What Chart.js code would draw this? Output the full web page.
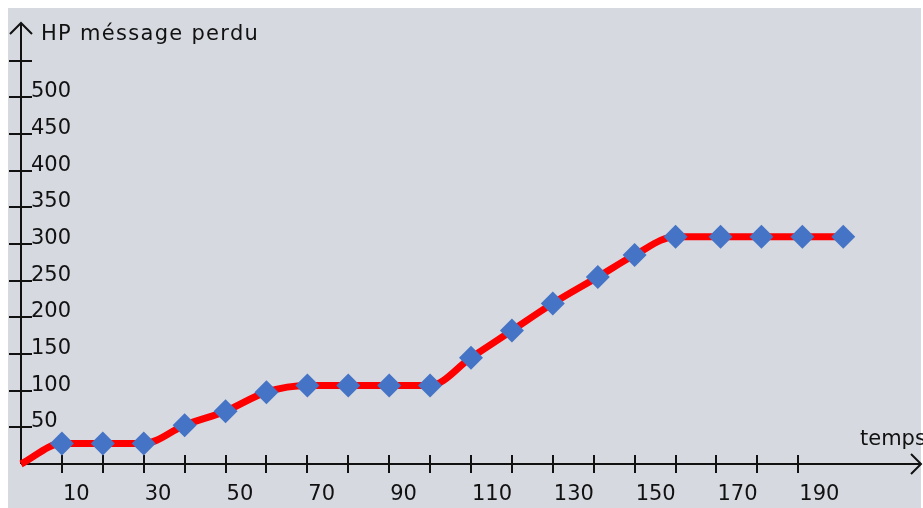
<!DOCTYPE html>
<html>
<head>
<meta charset="utf-8">
<title>HP message perdu</title>
<script src="https://cdn.jsdelivr.net/npm/chart.js@4.4.1/dist/chart.umd.min.js"></script>
<style>
    html, body { margin: 0; padding: 0; background: #ffffff; }
    canvas { display: block; }
</style>
</head>
<body>
<canvas id="graphe" width="923" height="508"></canvas>
<script>
// ==========================================
// DONNÉES
// ==========================================
const temps = [0, 10, 20, 30, 40, 50, 60, 70, 80, 90, 100, 110, 120, 130, 141, 150, 160, 171, 181, 191, 201];
const messagesPerdus = [0, 28, 28, 28, 53, 72, 98, 107, 107, 107, 107, 145, 182, 219, 255, 285, 310, 310, 310, 310, 310];

const xTicks = [10, 20, 30, 40, 50, 60, 70, 80, 90, 100, 110, 120, 130, 140, 150, 160, 170, 180, 190];
const xLabels = [10, 30, 50, 70, 90, 110, 130, 150, 170, 190];
const yTicks = [50, 100, 150, 200, 250, 300, 350, 400, 450, 500, 550];
const yLabels = [50, 100, 150, 200, 250, 300, 350, 400, 450, 500];

const titreY = "HP méssage perdu";
const titreX = "temps";

// ==========================================
// STYLE
// ==========================================
const FOND = 'rgb(214, 217, 224)';
const NOIR = '#111111';
const POLICE = "21px 'DejaVu Sans', sans-serif";

// fond gris avec marge blanche en haut et à gauche
const fondPlugin = {
    id: 'fond',
    beforeDraw(chart) {
        const ctx = chart.ctx;
        ctx.save();
        ctx.fillStyle = '#ffffff';
        ctx.fillRect(0, 0, chart.width, chart.height);
        ctx.fillStyle = FOND;
        ctx.fillRect(8, 8, chart.width - 10, chart.height - 8);
        ctx.restore();
    }
};

// axes avec flèches, graduations qui croisent l'axe et étiquettes
const axesPlugin = {
    id: 'axesFleches',
    beforeDatasetsDraw(chart) {
        const ctx = chart.ctx;
        const sx = chart.scales.x;
        const sy = chart.scales.y;
        const x0 = sx.getPixelForValue(0);
        const y0 = sy.getPixelForValue(0);
        const area = chart.chartArea;

        ctx.save();
        ctx.strokeStyle = NOIR;
        ctx.lineWidth = 2;

        // axe Y
        ctx.beginPath();
        ctx.moveTo(x0, y0);
        ctx.lineTo(x0, area.top - 1);
        ctx.moveTo(x0 - 11, area.top + 10);
        ctx.lineTo(x0, area.top - 1);
        ctx.lineTo(x0 + 11, area.top + 10);
        ctx.stroke();

        // axe X
        const xFin = chart.width - 2;
        ctx.beginPath();
        ctx.moveTo(x0, y0);
        ctx.lineTo(xFin, y0);
        ctx.moveTo(xFin - 10, y0 - 10);
        ctx.lineTo(xFin, y0);
        ctx.lineTo(xFin - 10, y0 + 10);
        ctx.stroke();

        // graduations
        ctx.beginPath();
        yTicks.forEach(v => {
            const py = Math.round(sy.getPixelForValue(v));
            ctx.moveTo(x0 - 12, py);
            ctx.lineTo(x0 + 11, py);
        });
        xTicks.forEach(v => {
            const px = Math.round(sx.getPixelForValue(v));
            ctx.moveTo(px, y0 - 9);
            ctx.lineTo(px, y0 + 9);
        });
        ctx.stroke();

        // étiquettes
        ctx.fillStyle = NOIR;
        ctx.font = POLICE;
        ctx.textAlign = 'left';
        ctx.textBaseline = 'alphabetic';
        yLabels.forEach(v => {
            ctx.fillText(String(v), x0 + 10, sy.getPixelForValue(v));
        });
        xLabels.forEach(v => {
            ctx.fillText(String(v), sx.getPixelForValue(v) + 1, y0 + 36);
        });

        ctx.fillText(titreX, 860, y0 - 19);
        ctx.letterSpacing = '1.3px';
        ctx.fillText(titreY, 41, 40);
        ctx.restore();
    }
};

// ==========================================
// GRAPHIQUE
// ==========================================
const points = temps.map((t, i) => ({ x: t, y: messagesPerdus[i] }));

new Chart(document.getElementById('graphe'), {
    type: 'line',
    data: {
        datasets: [{
            label: titreY,
            data: points,
            borderColor: '#ff0000',
            borderWidth: 7,
            cubicInterpolationMode: 'monotone',
            pointStyle: 'rectRot',
            pointRadius: ctx => ctx.dataIndex === 0 ? 0 : 12,
            pointBackgroundColor: '#4573c5',
            pointBorderWidth: 0,
            clip: false
        }]
    },
    options: {
        responsive: false,
        animation: false,
        events: [],
        layout: { autoPadding: false, padding: { left: 21, right: 2, top: 24, bottom: 44 } },
        plugins: {
            legend: { display: false },
            tooltip: { enabled: false }
        },
        scales: {
            x: { type: 'linear', min: 0, max: 220, display: false },
            y: { type: 'linear', min: 0, max: 600, display: false }
        }
    },
    plugins: [fondPlugin, axesPlugin]
});
</script>
</body>
</html>
